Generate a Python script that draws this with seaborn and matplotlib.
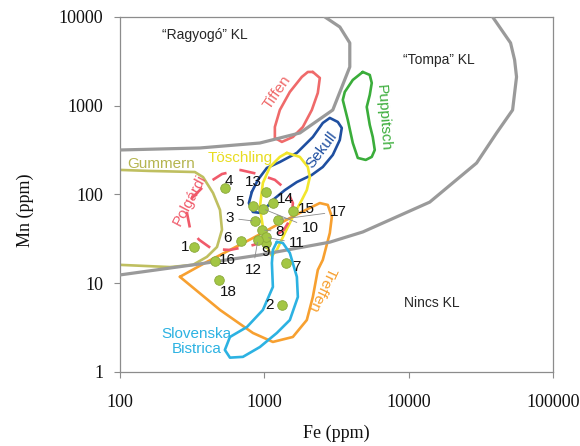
import numpy as np
import pandas as pd
import matplotlib
matplotlib.use("Agg")
import matplotlib.pyplot as plt
import seaborn as sns

# boundary curves (Fe, Mn in ppm)
upper_fe = [100, 358, 932, 1765, 2985, 3916, 3916, 3340, 2630]
upper_mn = [317, 334, 380, 493, 895, 2735, 5096, 7710, 10000]
lower_fe = [100, 358, 932, 2845, 4820, 14030, 29650, 40800, 52680, 56100, 54400, 51000, 38300]
lower_mn = [12.4, 16.5, 20.8, 29, 37.8, 82, 226, 493, 895, 2110, 3279, 5096, 10000]

# deposit fields
tiffen_fe = [2171, 2427, 2350, 2136, 1851, 1578, 1324, 1184, 1184, 1282, 1504, 1821, 2004, 2171]
tiffen_mn = [2400, 2055, 1393, 895, 576, 444, 391, 433, 576, 895, 1429, 2110, 2400, 2400]
puppitsch_fe = [4819, 5387, 5561, 5387, 5133, 5387, 5651, 5834, 5561, 5052, 4449, 4108, 3793, 3502, 3615, 4108, 4819]
puppitsch_mn = [2400, 2221, 1804, 1322, 968, 607, 444, 317, 265, 245, 258, 380, 691, 1161, 1429, 1950, 2400]
sekull_fe = [820, 903, 1042, 1282, 1682, 2171, 2545, 2847, 3233, 3446, 3338, 2986, 2545, 2136, 1682, 1389, 1147, 1042, 932, 834, 782, 820]
sekull_mn = [107, 146, 199, 232, 294, 444, 639, 728, 656, 561, 411, 279, 204, 166, 138, 112, 86.7, 72.3, 62, 63.5, 80, 107]
toschling_fe = [1434, 1764, 2004, 2069, 1972, 1821, 1578, 1389, 1222, 1129, 1042, 978, 932, 978, 1094, 1282, 1434]
toschling_mn = [294, 265, 204, 157, 112, 86.7, 56, 36.8, 23.7, 20.3, 25.6, 43, 72.3, 135, 204, 265, 294]
polgardi_fe = [678, 903, 1184, 1434, 1578, 1553, 1367, 1059, 795, 578, 434, 352, 305, 291, 315, 388, 509, 678]
polgardi_mn = [189, 170, 146, 112, 80, 56, 40, 30, 26.3, 23.7, 24.3, 31, 42, 62, 91, 128, 170, 189]
gummern_fe = [100, 161, 330, 376, 441, 493, 509, 470, 400, 320, 222, 100]
gummern_mn = [189, 184, 179, 157, 104, 66.9, 40, 25.6, 19.8, 16.1, 15.2, 16.1]
treffen_fe = [260, 400, 578, 834, 1222, 1765, 2427, 2756, 2939, 2847, 2545, 2350, 2171, 1972, 1578, 1147, 834, 493, 260]
treffen_mn = [11.8, 17.4, 23.7, 32.3, 45.3, 62, 80, 76.2, 56, 36.8, 18.3, 14.1, 7.0, 3.85, 2.48, 2.18, 2.75, 5.0, 11.8]
slovenska_fe = [1222, 1345, 1504, 1682, 1709, 1504, 1222, 932, 711, 578, 533, 578, 758, 978, 1147, 1129, 1147, 1222]
slovenska_mn = [29.2, 28.4, 21.9, 11.8, 7.0, 3.85, 2.75, 1.91, 1.48, 1.45, 1.77, 2.48, 3.21, 5.0, 9.08, 16.9, 23.7, 29.2]

# samples
sample_id = ["1", "2", "3", "4", "5", "6", "7", "8", "9", "10", "11", "12", "13", "14", "15", "16", "17", "18"]
sample_fe = [325, 1324, 861, 533, 834, 689, 1412, 962, 1026, 978, 1026, 903, 1026, 1147, 1578, 455, 1242, 485]
sample_mn = [25.6, 5.7, 50, 118, 74, 30, 16.9, 40, 28.4, 69, 33, 31, 107, 80, 65, 17.8, 52, 10.9]

sns.set_theme(style="white")
plt.rcParams["font.family"] = ["Liberation Sans", "DejaVu Sans"]

fig = plt.figure(figsize=(5.8, 4.46), dpi=100)
ax = fig.add_axes([0.207, 0.166, 0.746, 0.796])
ax.set_xscale("log")
ax.set_yscale("log")

gray = "#9a9a9a"
for fe, mn in [(upper_fe, upper_mn), (lower_fe, lower_mn)]:
    sns.lineplot(x=fe, y=mn, sort=False, estimator=None, color=gray, lw=2.3, ax=ax, zorder=3)

fields = [
    (tiffen_fe, tiffen_mn, "#ef6a6a", "-"),
    (puppitsch_fe, puppitsch_mn, "#3aad3a", "-"),
    (sekull_fe, sekull_mn, "#1f4fa0", "-"),
    (toschling_fe, toschling_mn, "#f2e62c", "-"),
    (gummern_fe, gummern_mn, "#bfbf60", "-"),
    (treffen_fe, treffen_mn, "#f7a030", "-"),
]
for fe, mn, col, ls in fields:
    sns.lineplot(x=fe, y=mn, sort=False, estimator=None, color=col, lw=1.9, ax=ax, zorder=2)
sns.lineplot(x=slovenska_fe, y=slovenska_mn, sort=False, estimator=None, color="#2cb2e2", lw=1.9, ax=ax, zorder=4)
sns.lineplot(x=polgardi_fe, y=polgardi_mn, sort=False, estimator=None, color="#f05a6a", lw=1.9,
             linestyle=(0, (6, 5)), ax=ax, zorder=2)

sns.scatterplot(x=sample_fe, y=sample_mn, color="#a3c644", edgecolor="#8aa83a", linewidth=0.6,
                s=48, ax=ax, zorder=5)

# label offsets in pixels (dx, dy) and whether a leader line is drawn
offsets = {
    "1": (-9, 0, False), "2": (-12, 0, False), "3": (-25, 3, True), "4": (4, 7, False),
    "5": (-13, 4, False), "6": (-13, 3, False), "7": (11, -4, False), "8": (18, -2, True),
    "9": (0, -9, False), "10": (47, -19, True), "11": (31, -6, True), "12": (-5, -30, True),
    "13": (-13, 10, False), "14": (12, 4, False), "15": (14, 2, False), "16": (12, 1, False),
    "17": (60, 8, True), "18": (9, -12, False),
}
for sid, fe, mn in zip(sample_id, sample_fe, sample_mn):
    dx, dy, lead = offsets[sid]
    arrow = dict(arrowstyle="-", color="#8a8a8a", lw=0.6, shrinkA=1, shrinkB=2) if lead else None
    ax.annotate(sid, (fe, mn), xytext=(dx, dy), textcoords="offset pixels", ha="center", va="center",
                fontsize=11, color="#111111", arrowprops=arrow, zorder=6)

# field names
ax.text(388, 6270, "\u201cRagyog\u00f3\u201d KL", fontsize=10, ha="center", va="center")
ax.text(16200, 3279, "\u201cTompa\u201d KL", fontsize=10, ha="center", va="center")
ax.text(14480, 6.0, "Nincs KL", fontsize=10, ha="center", va="center")
ax.text(1222, 1429, "Tiffen", fontsize=11, color="#ef6a6a", rotation=55, ha="center", va="center")
ax.text(6620, 728, "Puppitsch", fontsize=11, color="#3aad3a", rotation=-86, ha="center", va="center")
ax.text(2505, 317, "Sekull", fontsize=11, color="#1f4fa0", rotation=53, ha="center", va="center")
ax.text(678, 258, "Töschling", fontsize=11, color="#e8dc20", ha="center", va="center")
ax.text(192, 221, "Gummern", fontsize=11, color="#b5b550", ha="center", va="center")
ax.text(305, 86.7, "Polgárdi", fontsize=11, color="#f05a6a", rotation=62, ha="center", va="center")
ax.text(2505, 8.6, "Treffen", fontsize=11, color="#f7a030", rotation=-115, ha="center", va="center")
ax.text(341, 2.23, "Slovenska\nBistrica", fontsize=11, color="#2cb2e2", ha="center", va="center",
        linespacing=1.1)

ax.set_xlim(100, 100000)
ax.set_ylim(1, 10000)
ax.set_xticks([100, 1000, 10000, 100000])
ax.set_xticklabels(["100", "1000", "10000", "100000"])
ax.set_yticks([1, 10, 100, 1000, 10000])
ax.set_yticklabels(["1", "10", "100", "1000", "10000"])
ax.minorticks_off()
ax.tick_params(axis="both", which="major", direction="out", length=4, width=0.8, color="#8c8c8c",
               labelsize=13, left=True, bottom=True)
ax.tick_params(axis="x", pad=12)
ax.tick_params(axis="y", pad=8)
for lab in ax.get_xticklabels() + ax.get_yticklabels():
    lab.set_fontfamily("Liberation Serif")
    lab.set_color("#111111")
for sp in ax.spines.values():
    sp.set_visible(True)
    sp.set_color("#8c8c8c")
    sp.set_linewidth(0.9)

ax.set_xlabel("Fe (ppm)", fontsize=13, family="Liberation Serif", color="#111111")
ax.set_ylabel("Mn (ppm)", fontsize=13, family="Liberation Serif", color="#111111")
ax.xaxis.set_label_coords(0.5, -0.149)
ax.yaxis.set_label_coords(-0.20, 0.456)

fig.savefig("out.png", dpi=100)
